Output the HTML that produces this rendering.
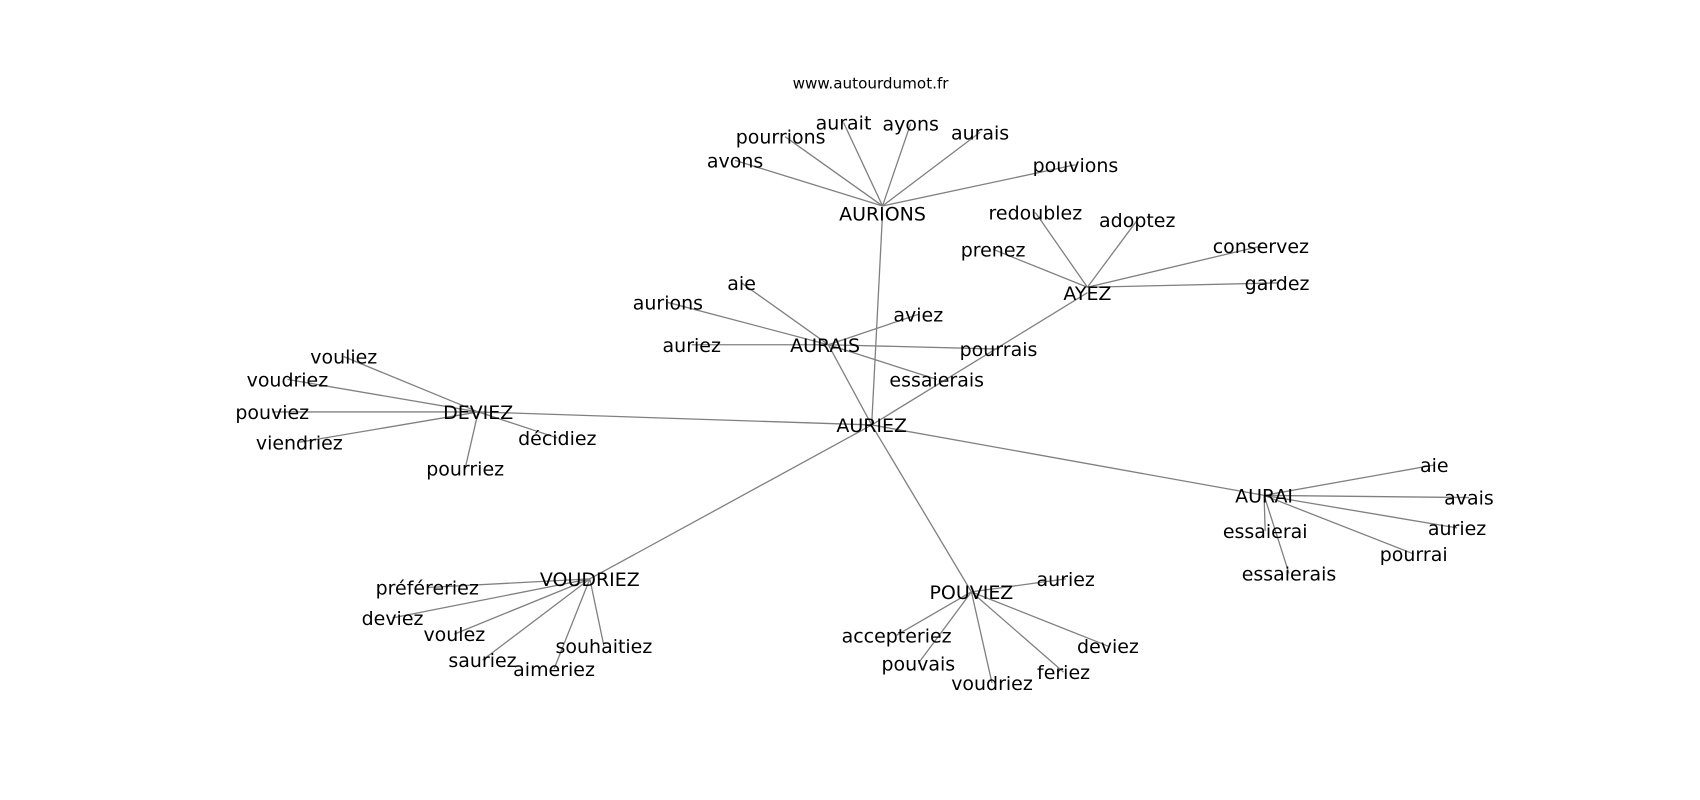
<!DOCTYPE html>
<html><head><meta charset="utf-8"><style>html,body{margin:0;padding:0;background:#fff}svg{display:block}</style></head>
<body>
<svg width="1700" height="800" viewBox="0 0 1568 738" xmlns="http://www.w3.org/2000/svg">
<g stroke="#808080" stroke-width="1.2" fill="none">
<line x1="804" y1="392" x2="814" y2="197"/><line x1="804" y1="392" x2="764" y2="318"/><line x1="804" y1="392" x2="441" y2="380"/><line x1="804" y1="392" x2="1166" y2="457"/><line x1="804" y1="392" x2="544" y2="534"/><line x1="804" y1="392" x2="896" y2="546"/><line x1="804" y1="392" x2="1003" y2="270"/>
<line x1="814" y1="190" x2="678" y2="148"/><line x1="814" y1="190" x2="724" y2="126"/><line x1="814" y1="190" x2="778" y2="113"/><line x1="814" y1="190" x2="840" y2="114"/><line x1="814" y1="190" x2="904" y2="122"/><line x1="814" y1="190" x2="992" y2="152"/>
<line x1="1003" y1="265" x2="955" y2="196"/><line x1="1003" y1="265" x2="1049" y2="203"/><line x1="1003" y1="265" x2="916" y2="230"/><line x1="1003" y1="265" x2="1163" y2="227"/><line x1="1003" y1="265" x2="1178" y2="261"/>
<line x1="764" y1="318" x2="684" y2="261"/><line x1="764" y1="318" x2="616" y2="279"/><line x1="764" y1="318" x2="638" y2="318"/><line x1="764" y1="318" x2="847" y2="290"/><line x1="764" y1="318" x2="921" y2="322"/><line x1="764" y1="318" x2="864" y2="350"/>
<line x1="441" y1="380" x2="317" y2="329"/><line x1="441" y1="380" x2="265" y2="350"/><line x1="441" y1="380" x2="251" y2="380"/><line x1="441" y1="380" x2="276" y2="408"/><line x1="441" y1="380" x2="429" y2="432"/><line x1="441" y1="380" x2="514" y2="404"/>
<line x1="1166" y1="457" x2="1323" y2="429"/><line x1="1166" y1="457" x2="1355" y2="459"/><line x1="1166" y1="457" x2="1344" y2="487"/><line x1="1166" y1="457" x2="1304" y2="511"/><line x1="1166" y1="457" x2="1167" y2="490"/><line x1="1166" y1="457" x2="1189" y2="529"/>
<line x1="544" y1="534" x2="394" y2="542"/><line x1="544" y1="534" x2="362" y2="570"/><line x1="544" y1="534" x2="419" y2="585"/><line x1="544" y1="534" x2="445" y2="609"/><line x1="544" y1="534" x2="511" y2="617"/><line x1="544" y1="534" x2="557" y2="596"/>
<line x1="896" y1="546" x2="983" y2="534"/><line x1="896" y1="546" x2="827" y2="586"/><line x1="896" y1="546" x2="847" y2="612"/><line x1="896" y1="546" x2="915" y2="630"/><line x1="896" y1="546" x2="981" y2="620"/><line x1="896" y1="546" x2="1022" y2="596"/>
</g>
<g font-family="'DejaVu Sans','Liberation Sans',sans-serif" font-size="17.5" fill="#000" text-anchor="middle" dominant-baseline="central" transform="translate(0,1)">
<text x="803" y="76" font-size="14">www.autourdumot.fr</text>
<text x="804" y="392">AURIEZ</text><text x="814" y="197">AURIONS</text><text x="761" y="318">AURAIS</text><text x="1003" y="270">AYEZ</text><text x="441" y="380">DEVIEZ</text><text x="1166" y="457">AURAI</text><text x="544" y="534">VOUDRIEZ</text><text x="896" y="546">POUVIEZ</text>
<text x="678" y="148">avons</text><text x="720" y="126">pourrions</text><text x="778" y="113">aurait</text><text x="840" y="114">ayons</text><text x="904" y="122">aurais</text><text x="992" y="152">pouvions</text>
<text x="955" y="196">redoublez</text><text x="1049" y="203">adoptez</text><text x="916" y="230">prenez</text><text x="1163" y="227">conservez</text><text x="1178" y="261">gardez</text>
<text x="684" y="261">aie</text><text x="616" y="279">aurions</text><text x="638" y="318">auriez</text><text x="847" y="290">aviez</text><text x="921" y="322">pourrais</text><text x="864" y="350">essaierais</text>
<text x="317" y="329">vouliez</text><text x="265" y="350">voudriez</text><text x="251" y="380">pouviez</text><text x="276" y="408">viendriez</text><text x="429" y="432">pourriez</text><text x="514" y="404">décidiez</text>
<text x="1323" y="429">aie</text><text x="1355" y="459">avais</text><text x="1344" y="487">auriez</text><text x="1304" y="511">pourrai</text><text x="1167" y="490">essaierai</text><text x="1189" y="529">essaierais</text>
<text x="394" y="542">préféreriez</text><text x="362" y="570">deviez</text><text x="419" y="585">voulez</text><text x="445" y="609">sauriez</text><text x="511" y="617">aimeriez</text><text x="557" y="596">souhaitiez</text>
<text x="983" y="534">auriez</text><text x="827" y="586">accepteriez</text><text x="847" y="612">pouvais</text><text x="915" y="630">voudriez</text><text x="981" y="620">feriez</text><text x="1022" y="596">deviez</text>
</g>
</svg>
</body></html>
